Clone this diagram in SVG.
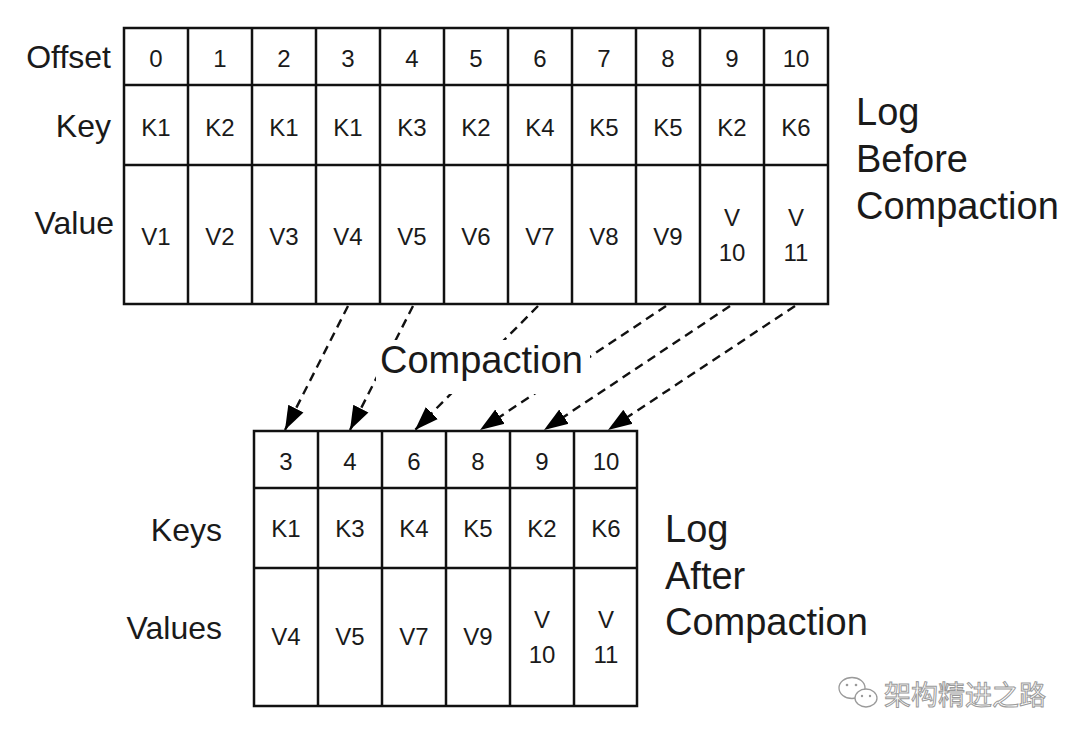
<svg xmlns="http://www.w3.org/2000/svg" width="1080" height="743" viewBox="0 0 1080 743">
<style>
.cell{fill:#fff;stroke:#111;stroke-width:2.5}
.ln{stroke:#111;stroke-width:2.5;fill:none}
.t{font-family:"Liberation Sans",Arial,sans-serif;font-size:24px;fill:#1a1a1a;text-anchor:middle}
.lab{font-family:"Liberation Sans",Arial,sans-serif;font-size:32px;fill:#1a1a1a;text-anchor:end}
.big{font-family:"Liberation Sans",Arial,sans-serif;font-size:38px;fill:#1a1a1a}
.conn{stroke:#111;stroke-width:2.4;fill:none;stroke-dasharray:9 6}
.wm{font-family:"Noto Sans CJK SC","Noto Sans",sans-serif;font-size:27px;fill:#fff;stroke:#9a9a9a;stroke-width:1}
</style>
<defs>
<marker id="ah" markerUnits="userSpaceOnUse" markerWidth="26" markerHeight="20" viewBox="0 0 26 20" refX="24" refY="10" orient="auto">
<path d="M0,1.5 L24,10 L0,18.5 Z" fill="#000" stroke="none"/>
</marker>
</defs>
<rect width="1080" height="743" fill="#fff"/>

<g id="before">
<rect class="cell" x="124" y="28" width="704" height="276"/>
<path class="ln" d="M124,85H828M124,165H828M188,28V304M252,28V304M316,28V304M380,28V304M444,28V304M508,28V304M572,28V304M636,28V304M700,28V304M764,28V304"/>
<g class="t">
<text x="156" y="67">0</text><text x="220" y="67">1</text><text x="284" y="67">2</text><text x="348" y="67">3</text><text x="412" y="67">4</text><text x="476" y="67">5</text><text x="540" y="67">6</text><text x="604" y="67">7</text><text x="668" y="67">8</text><text x="732" y="67">9</text><text x="796" y="67">10</text>
<text x="156" y="136">K1</text><text x="220" y="136">K2</text><text x="284" y="136">K1</text><text x="348" y="136">K1</text><text x="412" y="136">K3</text><text x="476" y="136">K2</text><text x="540" y="136">K4</text><text x="604" y="136">K5</text><text x="668" y="136">K5</text><text x="732" y="136">K2</text><text x="796" y="136">K6</text>
<text x="156" y="245">V1</text><text x="220" y="245">V2</text><text x="284" y="245">V3</text><text x="348" y="245">V4</text><text x="412" y="245">V5</text><text x="476" y="245">V6</text><text x="540" y="245">V7</text><text x="604" y="245">V8</text><text x="668" y="245">V9</text>
<text x="732" y="226">V</text><text x="732" y="261">10</text><text x="796" y="226">V</text><text x="796" y="261">11</text>
</g>
<text class="lab" x="111" y="68">Offset</text>
<text class="lab" x="111" y="137">Key</text>
<text class="lab" x="114" y="234">Value</text>
<text class="big" x="856" y="125">Log</text>
<text class="big" x="856" y="172">Before</text>
<text class="big" x="856" y="219">Compaction</text>
</g>

<g id="connectors">
<line class="conn" x1="348" y1="306" x2="285" y2="430" marker-end="url(#ah)"/>
<line class="conn" x1="413" y1="306" x2="350" y2="430" marker-end="url(#ah)"/>
<line class="conn" x1="538" y1="306" x2="415" y2="430" marker-end="url(#ah)"/>
<line class="conn" x1="666" y1="306" x2="480" y2="430" marker-end="url(#ah)"/>
<line class="conn" x1="730" y1="306" x2="544" y2="430" marker-end="url(#ah)"/>
<line class="conn" x1="795" y1="306" x2="608" y2="430" marker-end="url(#ah)"/>
</g>

<g id="compaction-label">
<rect x="376" y="340" width="214" height="54" fill="#fff"/>
<text class="big" x="380" y="373">Compaction</text>
</g>

<g id="after">
<rect class="cell" x="254" y="431" width="383" height="275"/>
<path class="ln" d="M254,488H637M254,568H637M318,431V706M382,431V706M446,431V706M510,431V706M574,431V706"/>
<g class="t">
<text x="286" y="470">3</text><text x="350" y="470">4</text><text x="414" y="470">6</text><text x="478" y="470">8</text><text x="542" y="470">9</text><text x="606" y="470">10</text>
<text x="286" y="537">K1</text><text x="350" y="537">K3</text><text x="414" y="537">K4</text><text x="478" y="537">K5</text><text x="542" y="537">K2</text><text x="606" y="537">K6</text>
<text x="286" y="645">V4</text><text x="350" y="645">V5</text><text x="414" y="645">V7</text><text x="478" y="645">V9</text>
<text x="542" y="628">V</text><text x="542" y="663">10</text><text x="606" y="628">V</text><text x="606" y="663">11</text>
</g>
<text class="lab" x="222" y="541">Keys</text>
<text class="lab" x="222" y="639">Values</text>
<text class="big" x="665" y="542">Log</text>
<text class="big" x="665" y="589">After</text>
<text class="big" x="665" y="635">Compaction</text>
</g>

<g id="watermark">
<ellipse cx="852" cy="688" rx="13" ry="10.5" fill="#fff" stroke="#9a9a9a" stroke-width="1.3"/>
<ellipse cx="866" cy="698" rx="11" ry="9" fill="#fff" stroke="#9a9a9a" stroke-width="1.3"/>
<circle cx="847" cy="685" r="1.3" fill="#9a9a9a"/><circle cx="856" cy="685" r="1.3" fill="#9a9a9a"/>
<circle cx="862" cy="696" r="1.2" fill="#9a9a9a"/><circle cx="870" cy="696" r="1.2" fill="#9a9a9a"/>
<text class="wm" x="884" y="705">架构精进之路</text>
</g>
</svg>
